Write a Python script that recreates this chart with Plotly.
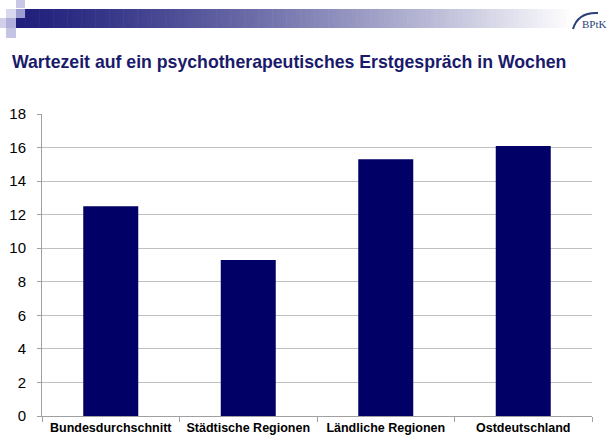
import plotly.graph_objects as go

categories = ["Bundesdurchschnitt", "Städtische Regionen", "Ländliche Regionen", "Ostdeutschland"]
values = [12.5, 9.3, 15.3, 16.1]
y_ticks = [0, 2, 4, 6, 8, 10, 12, 14, 16, 18]
title_text = "Wartezeit auf ein psychotherapeutisches Erstgespräch in Wochen"

W, H = 610, 443
L, R, T, B = 42, 592, 114, 416

def px(x):
    return (x - L) / (R - L)

def py(y):
    return (B - y) / (B - T)

fig = go.Figure(go.Bar(x=categories, y=values, marker_color="#000066", marker_line_width=0, width=0.4))

shapes = []
# gradient header bar
x0, x1 = 16, 575
n = 120
def lerp(a, b, t):
    return int(round(a + (b - a) * t))
c0 = (0x20, 0x20, 0x7c)
c1 = (0xff, 0xff, 0xff)
for i in range(n):
    t = i / (n - 1)
    t2 = min(1.0, t ** 1.25)
    col = "rgb(%d,%d,%d)" % (lerp(c0[0], c1[0], t2), lerp(c0[1], c1[1], t2), lerp(c0[2], c1[2], t2))
    xa = x0 + (x1 - x0) * i / n
    xb = x0 + (x1 - x0) * (i + 1) / n + 0.6
    shapes.append(dict(type="rect", xref="paper", yref="paper", x0=px(xa), x1=px(xb), y0=py(28), y1=py(9),
                       fillcolor=col, line_width=0, layer="below"))
# decorative squares
squares = [
    (16, 0, 25, 8, "#c8c8e6"),
    (6, 9, 16, 18, "#d8d8ee"),
    (16, 9, 25, 18, "#9d9dcf"),
    (0, 18, 6, 28, "#d0d0ea"),
    (6, 18, 16, 28, "#b0b0da"),
    (6, 28, 16, 38, "#c4c4e4"),
]
for (a, b, c, d, col) in squares:
    shapes.append(dict(type="rect", xref="paper", yref="paper", x0=px(a), x1=px(c), y0=py(d), y1=py(b),
                       fillcolor=col, line_width=0))
# logo arc
shapes.append(dict(type="path", xref="paper", yref="paper",
                   path="M %f,%f Q %f,%f %f,%f" % (px(573), py(29), px(578), py(12), px(598), py(13)),
                   line=dict(color="#2a3f7a", width=2)))

annotations = [
    dict(text="<b>" + title_text + "</b>", xref="paper", yref="paper", x=px(10), y=py(62),
         xanchor="left", yanchor="middle", showarrow=False,
         font=dict(family="Liberation Sans, Arial", size=17.7, color="#1a1a6b")),
    dict(text="BPtK", xref="paper", yref="paper", x=px(580), y=py(24),
         xanchor="left", yanchor="middle", showarrow=False,
         font=dict(family="Liberation Serif, serif", size=11, color="#2a3f7a")),
]

fig.update_layout(
    width=W, height=H,
    margin=dict(l=L, r=W - R, t=T, b=H - B, pad=0),
    paper_bgcolor="white", plot_bgcolor="white",
    showlegend=False,
    shapes=shapes,
    annotations=annotations,
    xaxis=dict(
        type="category", showgrid=False, showline=True, linecolor="#a0a0a0", linewidth=1,
        ticks="outside", tickson="boundaries", ticklen=5, tickcolor="#a0a0a0",
        tickangle=0, automargin=False,
        tickfont=dict(family="Liberation Sans, Arial", size=12.5, color="black"),
        tickprefix="<b>", ticksuffix="</b>",
    ),
    yaxis=dict(
        range=[0, 18], tickvals=y_ticks, showgrid=True, gridcolor="#c0c0c0", gridwidth=1,
        showline=True, linecolor="#a0a0a0", linewidth=1, zeroline=False,
        ticks="outside", ticklen=4, tickcolor="#a0a0a0", ticklabelstandoff=8,
        automargin=False,
        tickfont=dict(family="Liberation Sans, Arial", size=15, color="black"),
    ),
)

fig.write_html("out.html")
